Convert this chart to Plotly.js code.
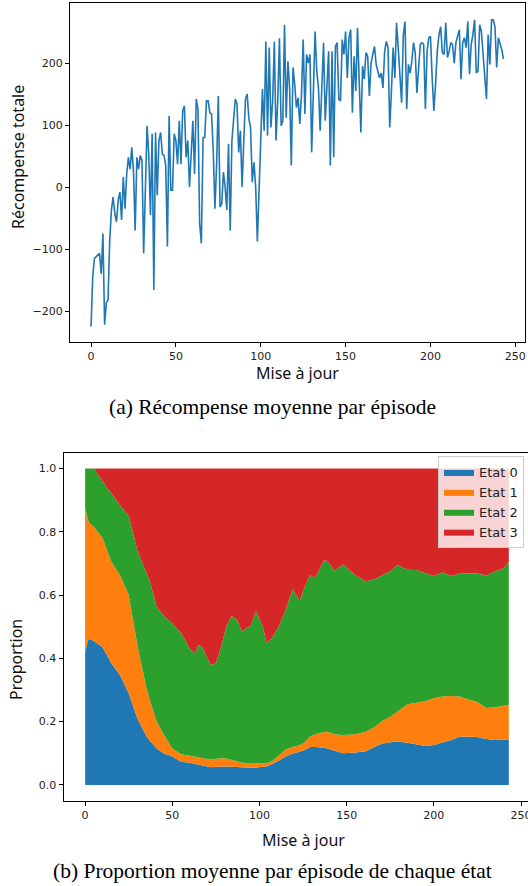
<!DOCTYPE html>
<html><head><meta charset="utf-8">
<script src="https://cdn.plot.ly/plotly-3.0.1.min.js"></script>
<style>html,body{margin:0;padding:0;background:#fff}#chart{width:528px;height:886px}</style>
</head><body><div id="chart"></div>
<script>
// ---- Data: (a) total reward per update ----
const reward = [
-225,-144,-115,-112,-110,-107,-140,-75,-222,-187,
-182,-86,-37,-16,-43,-56,-21,-8,-53,16,
-35,21,48,29,64,27,-70,48,29,51,
43,-107,-5,99,53,-45,86,-166,88,-13,
75,88,53,51,35,-96,115,-5,-5,86,
75,37,107,37,123,131,48,75,0,62,
107,21,142,126,-59,-91,80,80,139,139,
120,118,59,-35,37,147,-32,-27,24,0,
-37,70,-70,75,112,142,134,56,91,0,
75,142,150,110,96,8,40,0,-88,0,
107,158,91,235,83,225,96,139,235,75,
139,240,99,107,262,112,203,160,35,193,
166,128,144,
102,150,238,118,214,200,214,56,160,251,
187,160,91,166,233,107,166,219,35,219,
48,227,233,142,139,238,214,251,176,241,
254,120,211,155,257,176,88,195,174,217,
211,147,200,214,227,198,184,176,184,160,
219,235,225,96,155,225,176,265,225,171,
136,246,267,126,198,184,203,233,217,152,
187,230,233,230,126,219,241,243,176,123,
166,219,246,259,217,214,265,209,219,233,
230,200,233,246,254,174,233,241,225,267,
182,230,246,270,184,187,262,251,214,193,
142,246,198,270,270,259,193,241,233,222,
207];
const updates = reward.map((_, i) => i);

// ---- Data: (b) mean proportion of each state ----
const stateX = [0,2,5,10,15,20,25,30,35,37,41,45,50,55,60,63,65,67,72,75,78,81,84,87,90,93,95,98,102,104,107,111,115,119,123,126,129,132,137,139,143,148,155,161,166,170,175,179,185,190,195,200,205,210,215,220,225,230,235,240,243];
const etat0 = [0.42,0.463,0.455,0.435,0.385,0.347,0.29,0.21,0.155,0.14,0.115,0.10,0.09,0.073,0.07,0.067,0.064,0.062,0.056,0.057,0.058,0.058,0.057,0.056,0.054,0.054,0.054,0.055,0.057,0.058,0.065,0.076,0.09,0.099,0.105,0.11,0.12,0.12,0.117,0.115,0.108,0.10,0.102,0.106,0.12,0.13,0.135,0.137,0.133,0.128,0.123,0.126,0.134,0.142,0.153,0.152,0.151,0.145,0.142,0.143,0.144];
const etat1 = [0.455,0.367,0.36,0.345,0.32,0.316,0.31,0.23,0.155,0.13,0.085,0.06,0.025,0.024,0.022,0.023,0.023,0.023,0.024,0.025,0.026,0.025,0.021,0.018,0.016,0.015,0.015,0.015,0.012,0.01,0.01,0.016,0.022,0.021,0.02,0.025,0.033,0.04,0.05,0.053,0.052,0.058,0.058,0.062,0.063,0.07,0.08,0.095,0.122,0.132,0.141,0.148,0.145,0.139,0.126,0.118,0.111,0.098,0.103,0.107,0.109];
const etat2 = [0.125,0.17,0.185,0.18,0.215,0.221,0.25,0.30,0.362,0.377,0.363,0.375,0.395,0.383,0.338,0.326,0.355,0.352,0.299,0.302,0.353,0.417,0.456,0.449,0.414,0.429,0.433,0.48,0.429,0.381,0.388,0.408,0.441,0.498,0.456,0.491,0.51,0.493,0.543,0.54,0.517,0.539,0.503,0.476,0.467,0.46,0.46,0.463,0.425,0.419,0.406,0.386,0.393,0.379,0.389,0.398,0.406,0.419,0.43,0.434,0.452];
const etat3 = [0,0,0,0.04,0.08,0.116,0.15,0.26,0.328,0.353,0.437,0.465,0.49,0.52,0.57,0.584,0.558,0.563,0.621,0.616,0.563,0.50,0.466,0.477,0.516,0.502,0.498,0.45,0.502,0.551,0.537,0.50,0.447,0.382,0.419,0.374,0.337,0.347,0.29,0.292,0.323,0.303,0.337,0.356,0.35,0.34,0.325,0.305,0.32,0.321,0.33,0.34,0.328,0.34,0.332,0.332,0.332,0.338,0.325,0.316,0.295];
const stateNames = ["Etat 0","Etat 1","Etat 2","Etat 3"];
const stateColors = ["#1f77b4","#ff7f0e","#2ca02c","#d62728"];

// ---- Texts ----
const xTitle = "Mise à jour";
const yTitleA = "Récompense totale";
const yTitleB = "Proportion";
const captionA = "(a) Récompense moyenne par épisode";
const captionB = "(b) Proportion moyenne par épisode de chaque état";

const W = 528, H = 886;
const px = x => x / W;
const py = y => 1 - y / H;

const traces = [{
  x: updates, y: reward, type: "scatter", mode: "lines",
  line: {color: "#1f77b4", width: 1.6}, xaxis: "x", yaxis: "y", showlegend: false
}];
const stateData = [etat0, etat1, etat2, etat3];
stateData.forEach((vals, k) => {
  traces.push({
    x: stateX, y: vals, type: "scatter", mode: "lines", name: stateNames[k],
    stackgroup: "s", fill: "tonexty", fillcolor: stateColors[k],
    line: {width: 0, color: stateColors[k]}, xaxis: "x2", yaxis: "y2",
    legendgroup: "g" + k
  });
});

const tickFont = {family: "DejaVu Sans", size: 11, color: "#222"};
const axisCommon = {
  showgrid: false, zeroline: false, showline: true, linecolor: "#000", linewidth: 1,
  mirror: true, ticks: "outside", ticklen: 4, tickwidth: 1, tickcolor: "#000",
  tickfont: tickFont, automargin: false, ticklabeloverflow: "allow"
};
const titleFont = {family: "Noto Sans", size: 16, color: "#111"};
const capFont = {family: "Liberation Serif", size: 21.5, color: "#000"};
const ann = (text, x, y, font, angle) => ({text, x: px(x), y: py(y), xref: "paper", yref: "paper",
  xanchor: "center", yanchor: "middle", textangle: angle || 0, showarrow: false, font});

const layout = {
  width: W, height: H, margin: {l: 0, r: 0, t: 0, b: 0},
  paper_bgcolor: "#fff", plot_bgcolor: "#fff",
  xaxis: Object.assign({}, axisCommon, {domain: [px(70), px(525)], range: [-12.4, 255.7],
    tickvals: [0,50,100,150,200,250], anchor: "y"}),
  yaxis: Object.assign({}, axisCommon, {domain: [py(342), py(3)], range: [-250, 297],
    tickvals: [-200,-100,0,100,200], anchor: "x"}),
  xaxis2: Object.assign({}, axisCommon, {domain: [px(63.5), 1], range: [-12.4, 254.0],
    tickvals: [0,50,100,150,200,250], anchor: "y2"}),
  yaxis2: Object.assign({}, axisCommon, {domain: [py(800.7), py(452.7)], range: [-0.05, 1.05],
    tickvals: [0,0.2,0.4,0.6,0.8,1.0], tickformat: ".1f", anchor: "x2"}),
  legend: {x: px(438), y: py(456), xanchor: "left", yanchor: "top",
    bgcolor: "rgba(255,255,255,0.8)", bordercolor: "#ccc", borderwidth: 1,
    font: {family: "DejaVu Sans", size: 13, color: "#222"}, traceorder: "normal",
    tracegroupgap: 0},
  annotations: [
    ann(yTitleA, 18, 157, titleFont, -90),
    ann(xTitle, 297, 373, titleFont),
    ann(captionA, 272, 407, capFont),
    ann(yTitleB, 16, 660, titleFont, -90),
    ann(xTitle, 303, 840, titleFont),
    ann(captionB, 272, 871, capFont)
  ]
};
Plotly.newPlot("chart", traces, layout, {displayModeBar: false, staticPlot: true});
</script></body></html>
